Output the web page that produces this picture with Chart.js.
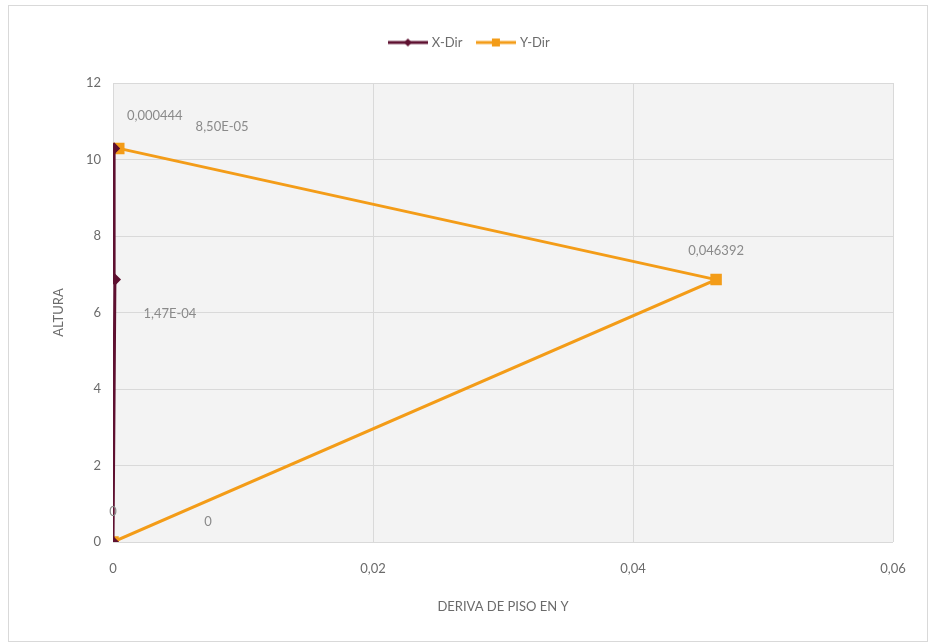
<!DOCTYPE html>
<html>
<head>
<meta charset="utf-8">
<script src="https://cdn.jsdelivr.net/npm/chart.js@4"></script>
<style>
html,body{margin:0;padding:0;background:#fff;}
#wrap{position:absolute;left:0;top:0;width:928px;height:644px;}
#frame{position:absolute;left:8px;top:5px;width:918px;height:635px;border:1px solid #d9d9d9;pointer-events:none;}
</style>
</head>
<body>
<div id="wrap"><canvas id="c" width="928" height="644"></canvas></div>
<div id="frame"></div>
<script>
// Data
const heights = [0, 6.86, 10.29];
const xDirValues = [0, 0.000147, 0.000085];
const yDirValues = [0, 0.046392, 0.000444];
const xDirLabels = ["0", "1,47E-04", "8,50E-05"];
const yDirLabels = ["0", "0,046392", "0,000444"];
const seriesNames = ["X-Dir", "Y-Dir"];
const xTicks = [0, 0.02, 0.04, 0.06];
const yTicks = [0, 2, 4, 6, 8, 10, 12];

const C_X = '#5e1030';
const C_Y = '#f39c18';
const FONT = 'Lato, "Open Sans", sans-serif';
const TXT = '#6b6b6b';

function legendIcon(color, style) {
  const cv = document.createElement('canvas');
  cv.width = 40; cv.height = 12;
  const g = cv.getContext('2d');
  g.strokeStyle = color; g.lineWidth = 3;
  g.beginPath(); g.moveTo(0, 6); g.lineTo(40, 6); g.stroke();
  g.fillStyle = color;
  if (style === 'diamond') {
    g.beginPath(); g.moveTo(20, 2); g.lineTo(24, 6); g.lineTo(20, 10); g.lineTo(16, 6); g.closePath(); g.fill();
  } else {
    g.fillRect(16, 2, 8, 8);
  }
  return cv;
}

const toPts = (xs) => xs.map((v, i) => ({x: v, y: heights[i]}));

const plotBg = {
  id: 'plotBg',
  beforeDraw(chart) {
    const a = chart.chartArea, ctx = chart.ctx;
    ctx.save(); ctx.fillStyle = '#f3f3f3';
    ctx.fillRect(a.left, a.top, a.right - a.left, a.bottom - a.top);
    ctx.restore();
  }
};

const labelOffsets = [
  [[0, -30], [55, 34], [108, -22]],
  [[95, -20], [0, -29], [36, -33]]
];
const dataLabels = {
  id: 'dataLabels',
  afterDatasetsDraw(chart) {
    const ctx = chart.ctx;
    const texts = [xDirLabels, yDirLabels];
    ctx.save();
    ctx.font = '13px ' + FONT;
    ctx.fillStyle = '#8a8a8a';
    ctx.textAlign = 'center'; ctx.textBaseline = 'middle';
    chart.data.datasets.forEach((ds, di) => {
      const meta = chart.getDatasetMeta(di);
      meta.data.forEach((el, i) => {
        const o = labelOffsets[di][i];
        ctx.fillText(texts[di][i], el.x + o[0], el.y + o[1]);
      });
    });
    ctx.restore();
  }
};

new Chart(document.getElementById('c'), {
  type: 'scatter',
  data: {
    datasets: [
      {
        label: seriesNames[0], data: toPts(xDirValues), showLine: true,
        borderColor: C_X, backgroundColor: C_X, borderWidth: 3,
        pointStyle: 'rectRot', pointRadius: 4, pointHoverRadius: 4
      },
      {
        label: seriesNames[1], data: toPts(yDirValues), showLine: true,
        borderColor: C_Y, backgroundColor: C_Y, borderWidth: 3,
        pointStyle: 'rect', pointRadius: 6, pointHoverRadius: 6
      }
    ]
  },
  options: {
    responsive: false,
    animation: false,
    layout: {padding: {left: 47, top: 20, right: 35, bottom: 25}},
    plugins: {
      tooltip: {enabled: false},
      subtitle: {display: true, text: '', position: 'top', weight: 500, font: {size: 10}, padding: {top: 6, bottom: 6}},
      legend: {
        position: 'top',
        labels: {
          usePointStyle: true,
          pointStyleWidth: 35,
          color: TXT,
          font: {family: FONT, size: 13},
          padding: 16,
          generateLabels(chart) {
            return chart.data.datasets.map((ds, i) => ({
              text: ds.label,
              pointStyle: legendIcon(ds.borderColor, i === 0 ? 'diamond' : 'square'),
              fillStyle: ds.borderColor, strokeStyle: ds.borderColor, lineWidth: 0,
              fontColor: TXT, datasetIndex: i, hidden: false
            }));
          }
        }
      }
    },
    scales: {
      x: {
        type: 'linear', min: 0, max: 0.06,
        afterBuildTicks(s) { s.ticks = xTicks.map(v => ({value: v})); },
        afterFit(s) { s.height = 77; },
        ticks: {
          color: TXT, font: {family: FONT, size: 13}, padding: 19,
          callback: v => v === 0 ? '0' : v.toFixed(2).replace('.', ',')
        },
        grid: {color: '#d9d9d9', drawTicks: false},
        border: {display: false},
        title: {display: true, text: 'DERIVA DE PISO EN Y', color: TXT, font: {family: FONT, size: 13}, padding: {top: 14}}
      },
      y: {
        type: 'linear', min: 0, max: 12,
        afterBuildTicks(s) { s.ticks = yTicks.map(v => ({value: v})); },
        afterFit(s) { s.width = 66; },
        ticks: {color: TXT, font: {family: FONT, size: 13}, padding: 12},
        grid: {color: '#d9d9d9', drawTicks: false},
        border: {display: false},
        title: {display: true, text: 'ALTURA', color: TXT, font: {family: FONT, size: 13}, padding: {bottom: 14}}
      }
    }
  },
  plugins: [plotBg, dataLabels]
});
</script>
</body>
</html>
